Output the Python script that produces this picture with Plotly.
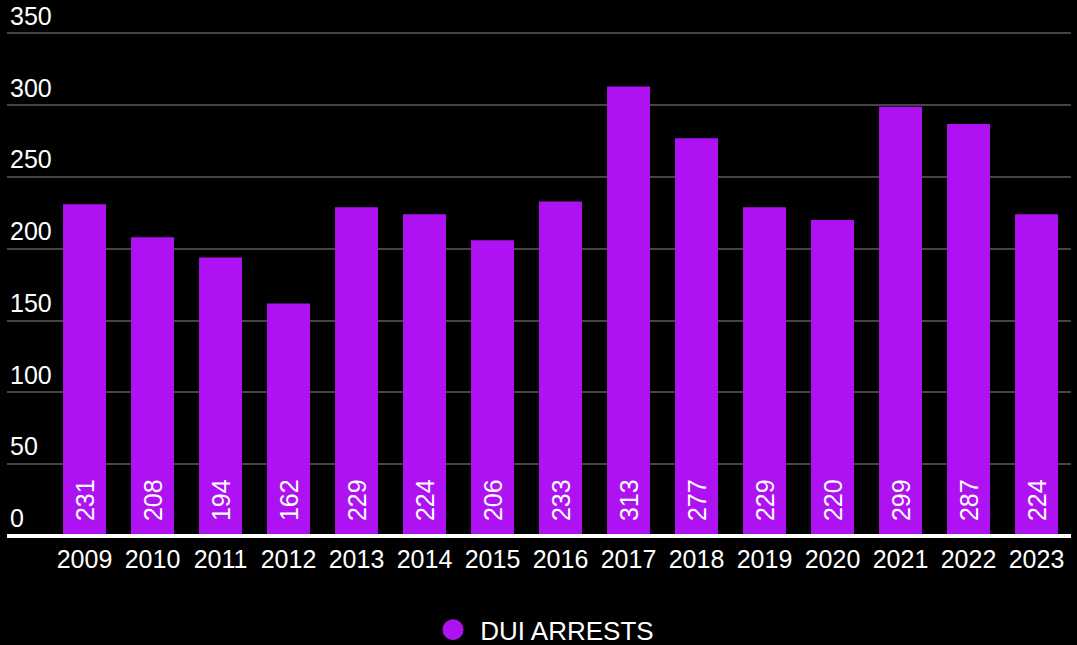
import plotly.graph_objects as go

years = ["2009", "2010", "2011", "2012", "2013", "2014", "2015", "2016",
         "2017", "2018", "2019", "2020", "2021", "2022", "2023"]
dui_arrests = [231, 208, 194, 162, 229, 224, 206, 233,
               313, 277, 229, 220, 299, 287, 224]
y_ticks = [0, 50, 100, 150, 200, 250, 300, 350]

BAR_COLOR = "#AE12F2"
FONT = "Liberation Sans, Arial, sans-serif"
NBSP = "\u00a0"
THIN = "\u2009"

fig = go.Figure()

fig.add_trace(go.Bar(
    x=years,
    y=dui_arrests,
    marker=dict(color=BAR_COLOR, line=dict(width=0)),
    # leading spaces lift the rotated value off the baseline
    text=[NBSP + THIN + str(v) for v in dui_arrests],
    textposition="inside",
    insidetextanchor="start",
    textangle=-90,
    textfont=dict(color="white", size=25, family=FONT),
    showlegend=False,
    hoverinfo="x+y",
))

# legend entry with a round marker
fig.add_trace(go.Scatter(
    x=[None], y=[None],
    mode="markers",
    name=NBSP + "DUI ARRESTS",
    marker=dict(symbol="circle", size=16, color=BAR_COLOR,
                line=dict(color=BAR_COLOR, width=5)),
    showlegend=True,
))

fig.update_layout(
    width=1077,
    height=645,
    paper_bgcolor="black",
    plot_bgcolor="black",
    margin=dict(l=7, r=6, t=0, b=109, autoexpand=False),
    bargap=0.368,
    font=dict(family=FONT, color="white", size=25),
    showlegend=True,
    legend=dict(
        orientation="h",
        x=0.5066, xanchor="center",
        y=-0.175, yanchor="middle",
        font=dict(size=26, color="white", family=FONT),
        bgcolor="rgba(0,0,0,0)",
    ),
    xaxis=dict(
        type="category",
        range=[-1.14, 14.507],
        showgrid=False,
        showline=False,
        zeroline=False,
        ticks="",
        ticklabelstandoff=6,
        tickfont=dict(size=25, color="white", family=FONT),
        fixedrange=True,
    ),
    yaxis=dict(
        range=[0, 373.3],
        tickvals=y_ticks,
        ticktext=[str(t) for t in y_ticks],
        ticklabelposition="inside top",
        tickfont=dict(size=25, color="white", family=FONT),
        showgrid=True,
        gridcolor="#444444",
        gridwidth=2,
        zeroline=True,
        zerolinecolor="white",
        zerolinewidth=4,
        zerolinelayer="above traces",
        showline=False,
        ticks="",
        fixedrange=True,
    ),
)

fig.write_html("out.html")
